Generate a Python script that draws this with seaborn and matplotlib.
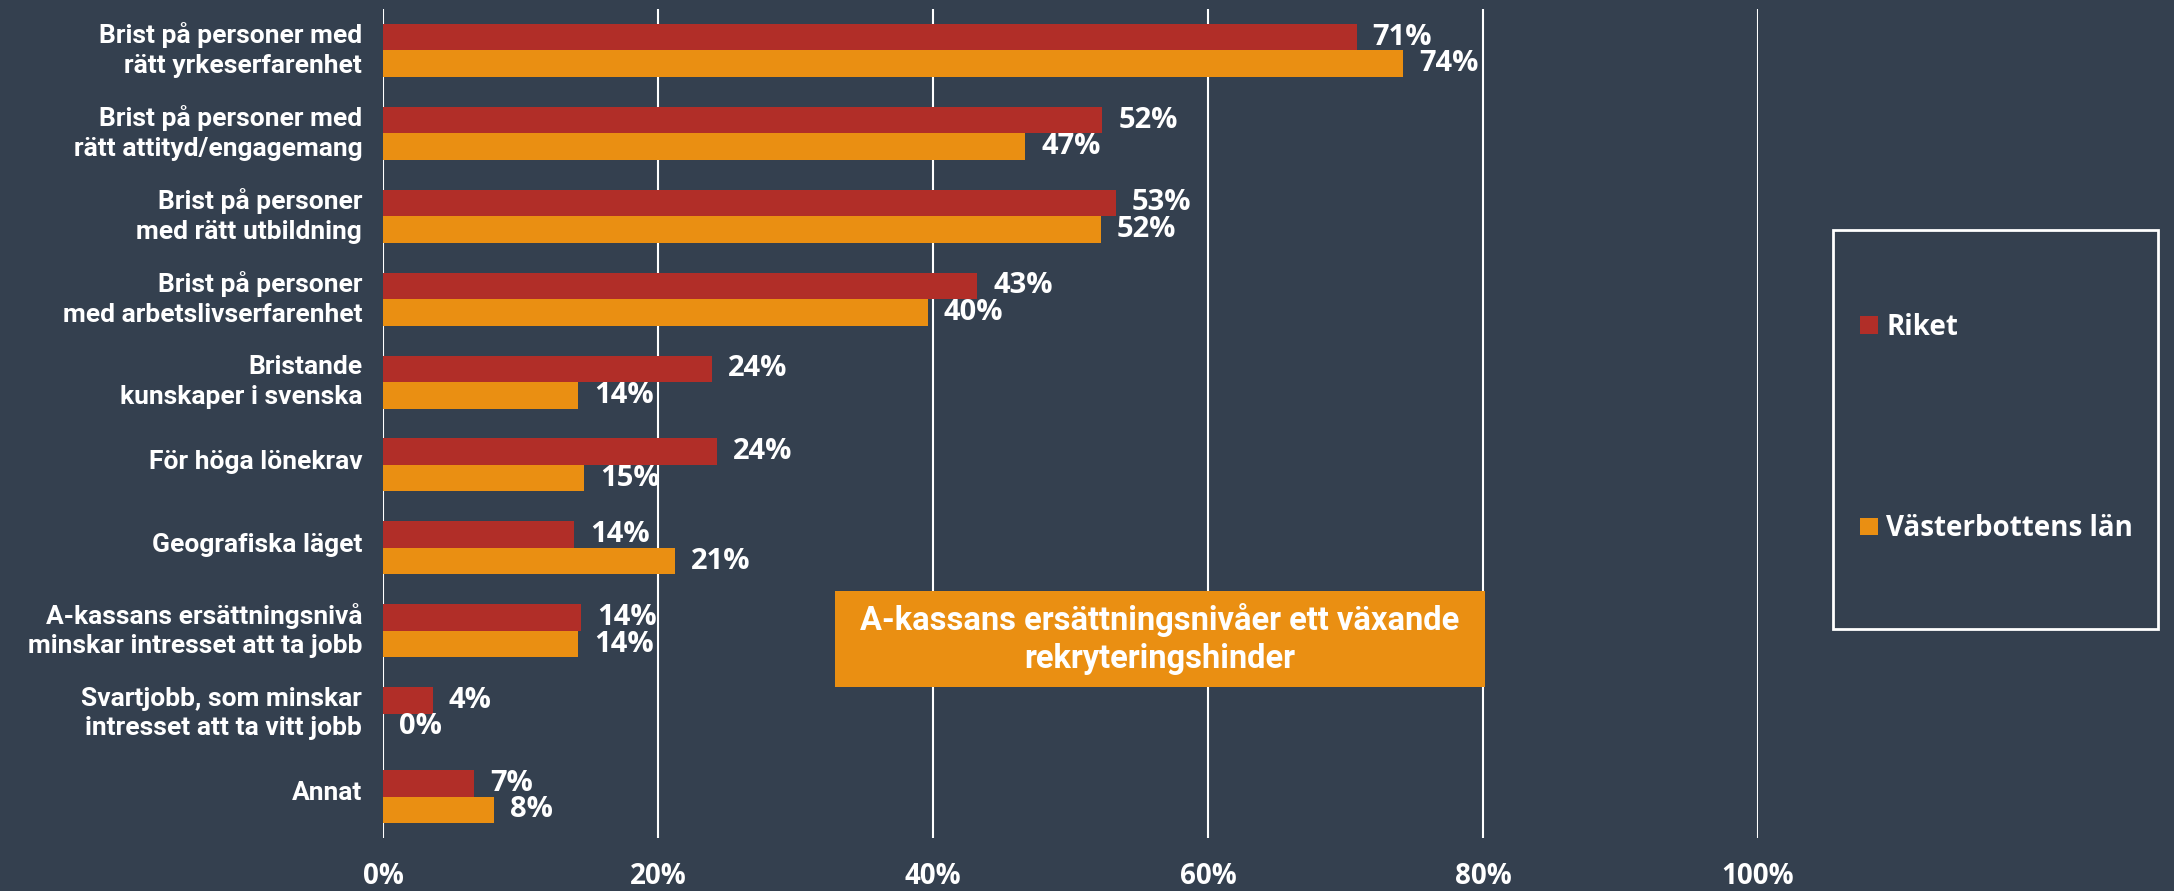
import matplotlib
matplotlib.use("Agg")
import matplotlib.pyplot as plt
import matplotlib.patches as mpatches
import matplotlib.transforms as mtransforms
import pandas as pd
import seaborn as sns

# Data
categories = [
    "Brist på personer med\nrätt yrkeserfarenhet",
    "Brist på personer med\nrätt attityd/engagemang",
    "Brist på personer\nmed rätt utbildning",
    "Brist på personer\nmed arbetslivserfarenhet",
    "Bristande\nkunskaper i svenska",
    "För höga lönekrav",
    "Geografiska läget",
    "A-kassans ersättningsnivå\nminskar intresset att ta jobb",
    "Svartjobb, som minskar\nintresset att ta vitt jobb",
    "Annat",
]
riket = [70.8, 52.3, 53.3, 43.2, 23.9, 24.3, 13.9, 14.4, 3.6, 6.6]
vasterbotten = [74.2, 46.7, 52.2, 39.6, 14.2, 14.6, 21.2, 14.2, 0.0, 8.1]
series = ["Riket", "Västerbottens län"]
x_ticks = [0, 20, 40, 60, 80, 100]
note_text = "A-kassans ersättningsnivåer ett växande\nrekryteringshinder"

bg = "#34404F"
red = "#B12E28"
orange = "#EA8F12"

df = pd.DataFrame({
    "kategori": categories * 2,
    "serie": [series[0]] * len(categories) + [series[1]] * len(categories),
    "andel": riket + vasterbotten,
})

sns.set_style("dark")
plt.rcParams["font.family"] = ["Roboto", "DejaVu Sans"]

fig = plt.figure(figsize=(21.74, 8.91), dpi=100, facecolor=bg)
ax = fig.add_axes([0.1762, 0.0595, 0.6325, 0.9304])
ax.set_facecolor(bg)

sns.barplot(data=df, y="kategori", x="andel", hue="serie", orient="h",
            palette=[red, orange], width=0.64, gap=0, ax=ax, saturation=1,
            linewidth=0, edgecolor="none")

handles, labels = ax.get_legend_handles_labels()
if ax.get_legend() is not None:
    ax.get_legend().remove()

# Value labels
for cont, vals in zip(ax.containers, [riket, vasterbotten]):
    ax.bar_label(cont, labels=[f"{v:.0f}%" for v in vals], padding=11.5,
                 color="white", fontsize=21, fontweight="bold",
                 family=["Open Sans", "DejaVu Sans"])

ax.set_xlim(0, 100)
ax.set_ylim(len(categories) - 0.5, -0.5)
ax.set_xticks(x_ticks)
ax.set_xticklabels([f"{t}%" for t in x_ticks])
ax.grid(axis="x", color="white", linewidth=1.5)
ax.grid(axis="y", visible=False)
ax.set_axisbelow(True)
for s in ax.spines.values():
    s.set_visible(False)
ax.set_xlabel("")
ax.set_ylabel("")
ax.tick_params(axis="x", length=0, pad=17, colors="white", labelsize=20)
ax.tick_params(axis="y", length=0, pad=15, colors="white", labelsize=19)
for t in ax.get_xticklabels():
    t.set_fontweight("bold")
    t.set_family(["Open Sans", "DejaVu Sans"])
# nudge category labels up a little
shift = mtransforms.ScaledTranslation(0, 4 / 72, fig.dpi_scale_trans)
for t in ax.get_yticklabels():
    t.set_fontweight("bold")
    t.set_linespacing(1.3)
    t.set_color("white")
    t.set_transform(t.get_transform() + shift)

# Legend box
fig.add_artist(mpatches.Rectangle((1833 / 2174, 1 - 629 / 891), 325 / 2174, 399 / 891,
                                  transform=fig.transFigure, facecolor="none",
                                  edgecolor="white", linewidth=2))
leg = fig.legend(handles, labels, loc="center left",
                 bbox_to_anchor=(1860 / 2174, 1 - 428 / 891), frameon=False,
                 fontsize=20, labelcolor="white", labelspacing=6.2,
                 handlelength=0.65, handleheight=0.6, handletextpad=0.3,
                 borderaxespad=0, borderpad=0)
for t in leg.get_texts():
    t.set_fontweight("bold")
    t.set_family(["Open Sans", "DejaVu Sans"])

# Note box
fig.add_artist(mpatches.Rectangle((835 / 2174, 1 - 687 / 891), 650 / 2174, 96 / 891,
                                  transform=fig.transFigure, facecolor=orange,
                                  edgecolor="none", zorder=5))
fig.text(1160 / 2174, 1 - 639 / 891, note_text, ha="center", va="center",
         color="white", fontsize=23.5, fontweight="bold", linespacing=1.25, zorder=6)

fig.savefig("out.png", dpi=100, facecolor=bg)
